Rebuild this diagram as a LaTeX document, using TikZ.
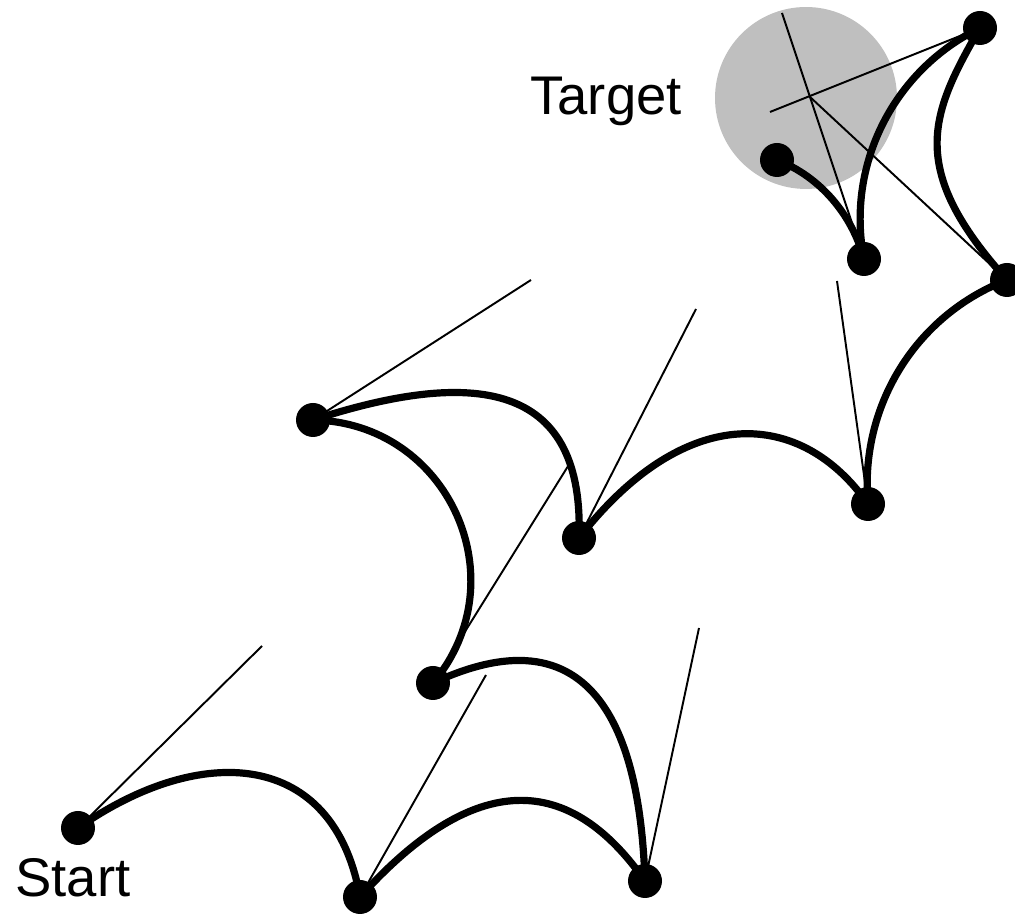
\documentclass[tikz,border=0pt]{standalone}
\usepackage{fontspec}
\setmainfont{Liberation Sans}
\usepackage{tikz}
\tikzset{
    dot/.style = {circle, fill=black, inner sep=0pt, minimum size=0.68cm},
    goal/.style = {circle, fill=black!25, inner sep=0pt, minimum size=3.64cm},
    track/.style = {line width=4.1pt},
    heading/.style = {line width=1.1pt},
    label/.style = {inner sep=0pt, anchor=base west, font=\fontsize{31}{34}\selectfont}
}
\begin{document}
\begin{tikzpicture}[x=0.02cm, y=0.02cm]
\useasboundingbox (0,0) rectangle (1015,915);
\node (goal) [goal] at (806,817) {};
\node (start) [label] at (15,18) {Start};
\node (target) [label] at (530,800) {Target};

\node (p1) [dot] at (78,87) {};
\node (p2) [dot] at (360,18) {};
\node (p3) [dot] at (645,34) {};
\node (p4) [dot] at (433,232) {};
\node (p5) [dot] at (313,495) {};
\node (p6) [dot] at (579,377) {};
\node (p7) [dot] at (868,411) {};
\node (p8) [dot] at (1007,635) {};
\node (p9) [dot] at (980,887) {};
\node (p10) [dot] at (864,656) {};
\node (p11) [dot] at (777,755) {};

\coordinate (h1) at (262,269);
\coordinate (h2) at (486,240);
\coordinate (h3) at (699,287);
\coordinate (h4) at (570,452);
\coordinate (h5) at (531,635);
\coordinate (h6) at (696,606);
\coordinate (h7) at (837,634);
\coordinate (h8) at (810,818);
\coordinate (h9) at (770,803);
\coordinate (h10) at (782,902);

\draw [heading] (p1.center) -- (h1);
\draw [heading] (p2.center) -- (h2);
\draw [heading] (p3.center) -- (h3);
\draw [heading] (p4.center) -- (h4);
\draw [heading] (p5.center) -- (h5);
\draw [heading] (p6.center) -- (h6);
\draw [heading] (p7.center) -- (h7);
\draw [heading] (p8.center) -- (h8);
\draw [heading] (p9.center) -- (h9);
\draw [heading] (p10.center) -- (h10);

\draw [track] (p1.center) .. controls +(35:150) and +(100:150) .. (p2.center);
\draw [track] (p2.center) .. controls +(48:150) and +(125:150) .. (p3.center);
\draw [track] (p3.center) .. controls +(92:110) and +(25:200) .. (p4.center);
\draw [track] (p4.center) .. controls +(50:135) and +(-1:135) .. (p5.center);
\draw [track] (p5.center) .. controls +(18:180) and +(88:150) .. (p6.center);
\draw [track] (p6.center) .. controls +(52:175) and +(125:115) .. (p7.center);
\draw [track] (p7.center) .. controls +(95:98) and +(201:98) .. (p8.center);
\draw [track] (p8.center) .. controls +(132:150) and +(240:100) .. (p9.center);
\draw [track] (p9.center) .. controls +(206:96) and +(101:96) .. (p10.center);
\draw [track] (p10.center) .. controls +(105:46) and +(-21:46) .. (p11.center);
\end{tikzpicture}
\end{document}
